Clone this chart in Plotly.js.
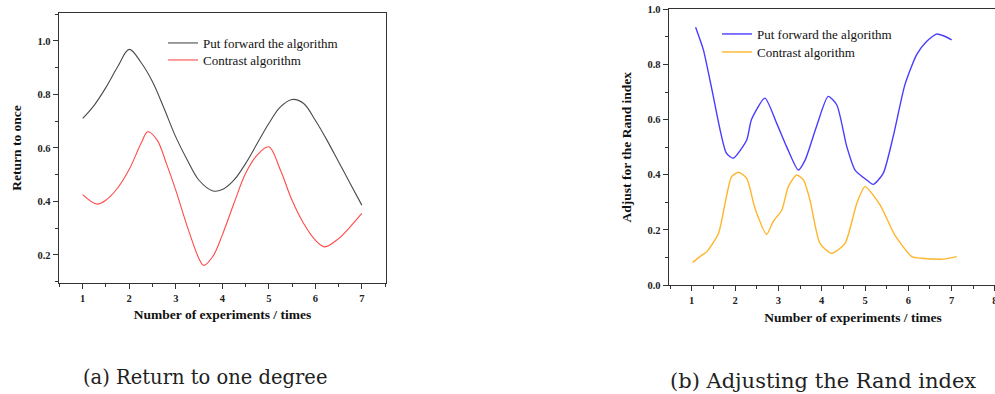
<!DOCTYPE html>
<html>
<head>
<meta charset="utf-8">
<script src="https://cdn.plot.ly/plotly-3.0.1.min.js"></script>
<style>
html, body { margin: 0; padding: 0; background: #fff; overflow: hidden; width: 995px; height: 394px; }
#chart { width: 1050px; height: 394px; }
</style>
</head>
<body>
<div id="chart"></div>
<script>
// ---- Data: (a) Return to one degree ----
const seriesNames = ["Put forward the algorithm", "Contrast algorithm"];
const xA_proposed = [1, 1.25, 1.5, 1.75, 2, 2.25, 2.5, 2.75, 3, 3.25, 3.5, 3.8, 4, 4.25, 4.5, 4.75, 5, 5.25, 5.5, 5.75, 6, 6.25, 6.5, 6.75, 7];
const yA_proposed = [0.71, 0.76, 0.826, 0.903, 0.968, 0.92, 0.847, 0.747, 0.641, 0.554, 0.479, 0.439, 0.444, 0.479, 0.541, 0.616, 0.691, 0.753, 0.781, 0.766, 0.703, 0.629, 0.548, 0.467, 0.386];
const xA_contrast = [1, 1.3, 1.5, 1.75, 2, 2.25, 2.4, 2.6, 2.8, 3, 3.25, 3.5, 3.6, 3.8, 4, 4.25, 4.5, 4.75, 5, 5.25, 5.5, 5.75, 6, 6.2, 6.5, 6.75, 7];
const yA_contrast = [0.425, 0.39, 0.405, 0.45, 0.52, 0.615, 0.66, 0.629, 0.541, 0.442, 0.305, 0.186, 0.161, 0.195, 0.274, 0.392, 0.504, 0.573, 0.604, 0.517, 0.404, 0.317, 0.255, 0.23, 0.261, 0.305, 0.355];

// ---- Data: (b) Adjusting the Rand index ----
const xB_proposed = [1.09, 1.27, 1.46, 1.8, 1.96, 2.27, 2.38, 2.69, 2.96, 3.19, 3.46, 3.62, 3.88, 4.15, 4.35, 4.58, 4.77, 5.04, 5.19, 5.42, 5.65, 5.92, 6.19, 6.42, 6.65, 6.81, 7.0];
const yB_proposed = [0.935, 0.853, 0.714, 0.478, 0.46, 0.526, 0.6, 0.678, 0.587, 0.502, 0.417, 0.454, 0.575, 0.684, 0.653, 0.502, 0.417, 0.381, 0.365, 0.405, 0.538, 0.726, 0.835, 0.883, 0.91, 0.904, 0.889];
const xB_contrast = [1.02, 1.19, 1.35, 1.62, 1.77, 1.92, 2.08, 2.27, 2.46, 2.73, 2.88, 3.08, 3.23, 3.42, 3.58, 3.73, 3.96, 4.23, 4.54, 4.81, 5.0, 5.35, 5.69, 6.08, 6.31, 6.81, 7.12];
const yB_contrast = [0.082, 0.103, 0.121, 0.188, 0.296, 0.393, 0.409, 0.387, 0.278, 0.184, 0.23, 0.272, 0.357, 0.399, 0.381, 0.308, 0.151, 0.115, 0.151, 0.296, 0.357, 0.29, 0.181, 0.103, 0.097, 0.094, 0.103];

const captions = ["(a) Return to one degree", "(b) Adjusting the Rand index"];
const xTitle = "Number of experiments / times";
const yTitleA = "Return to once";
const yTitleB = "Adjust for the Rand index";

const W = 1050, H = 394;
const serif = "Liberation Serif, Times New Roman, serif";
const titleFont = {family: serif, size: 13.5, color: "#111", weight: "bold"};

const traces = [
  {x: xA_proposed, y: yA_proposed, name: seriesNames[0], xaxis: "x", yaxis: "y", legend: "legend",
   mode: "lines", line: {color: "#4a4a4a", width: 1.1, shape: "spline", smoothing: 1}},
  {x: xA_contrast, y: yA_contrast, name: seriesNames[1], xaxis: "x", yaxis: "y", legend: "legend2",
   mode: "lines", line: {color: "#ff4a4a", width: 1.1, shape: "spline", smoothing: 1}},
  {x: xB_proposed, y: yB_proposed, name: seriesNames[0], xaxis: "x2", yaxis: "y2", legend: "legend3",
   mode: "lines", line: {color: "#4a3cff", width: 1.4, shape: "spline", smoothing: 0.6}},
  {x: xB_contrast, y: yB_contrast, name: seriesNames[1], xaxis: "x2", yaxis: "y2", legend: "legend4",
   mode: "lines", line: {color: "#ffb52a", width: 1.4, shape: "spline", smoothing: 0.6}}
];

function axisBase(extra) {
  return Object.assign({
    showline: true, mirror: true, linecolor: "#333", linewidth: 1.3,
    showgrid: false, zeroline: false,
    ticks: "outside", ticklen: 5, tickwidth: 1, tickcolor: "#333",
    tickfont: {family: serif, size: 10.5, color: "#222", weight: "bold"},
    fixedrange: true
  }, extra);
}

function legendAt(xpx, toppx) {
  return {
    x: xpx / W, xanchor: "left", y: 1 - toppx / H, yanchor: "top",
    bgcolor: "rgba(0,0,0,0)", borderwidth: 0, tracegroupgap: 0,
    font: {family: serif, size: 13, color: "#111"}, itemwidth: 30
  };
}

const layout = {
  width: W, height: H,
  margin: {l: 0, r: 0, t: 0, b: 0},
  paper_bgcolor: "#fff", plot_bgcolor: "#fff",
  showlegend: true,
  xaxis: axisBase({
    domain: [59 / W, 386 / W], range: [0.49, 7.52], anchor: "y",
    tickmode: "linear", tick0: 1, dtick: 1,
    minor: {ticks: "outside", ticklen: 3, tickcolor: "#333", dtick: 0.5, tick0: 0.5},
    title: {text: xTitle, font: titleFont, standoff: 6}
  }),
  yaxis: axisBase({
    domain: [1 - 283 / H, 1 - 13 / H], range: [0.095, 1.104], anchor: "x",
    tickmode: "array", tickvals: [0.2, 0.4, 0.6, 0.8, 1.0], ticktext: ["0.2", "0.4", "0.6", "0.8", "1.0"],
    minor: {ticks: "outside", ticklen: 3, tickcolor: "#333", tickvals: [0.1, 0.3, 0.5, 0.7, 0.9, 1.1]},
    title: {text: yTitleA, font: titleFont, standoff: 12}
  }),
  xaxis2: axisBase({
    domain: [669 / W, 1037 / W], range: [0.476, 8.97], anchor: "y2",
    tickmode: "linear", tick0: 1, dtick: 1,
    minor: {ticks: "outside", ticklen: 3, tickcolor: "#333", dtick: 0.5, tick0: 0.5},
    title: {text: xTitle, font: titleFont, standoff: 7}
  }),
  yaxis2: axisBase({
    domain: [1 - 285 / H, 1 - 9.3 / H], range: [0, 1.0], anchor: "x2",
    tickmode: "array", tickvals: [0, 0.2, 0.4, 0.6, 0.8, 1.0], ticktext: ["0.0", "0.2", "0.4", "0.6", "0.8", "1.0"],
    minor: {ticks: "outside", ticklen: 3, tickcolor: "#333", tickvals: [0.1, 0.3, 0.5, 0.7, 0.9]},
    title: {text: yTitleB, font: titleFont, standoff: 12}
  }),
  legend: legendAt(163, 28),
  legend2: legendAt(163, 45),
  legend3: legendAt(717, 19),
  legend4: legendAt(717, 37),
  annotations: [
    {text: captions[0], xref: "paper", yref: "paper", x: 205 / W, y: 1 - 377 / H, xanchor: "center", yanchor: "middle",
     showarrow: false, font: {family: "DejaVu Serif, serif", size: 19.5, color: "#222"}},
    {text: captions[1], xref: "paper", yref: "paper", x: 823 / W, y: 1 - 381 / H, xanchor: "center", yanchor: "middle",
     showarrow: false, font: {family: "DejaVu Serif, serif", size: 21, color: "#222"}}
  ]
};

Plotly.newPlot("chart", traces, layout, {displayModeBar: false, staticPlot: true});
</script>
</body>
</html>
